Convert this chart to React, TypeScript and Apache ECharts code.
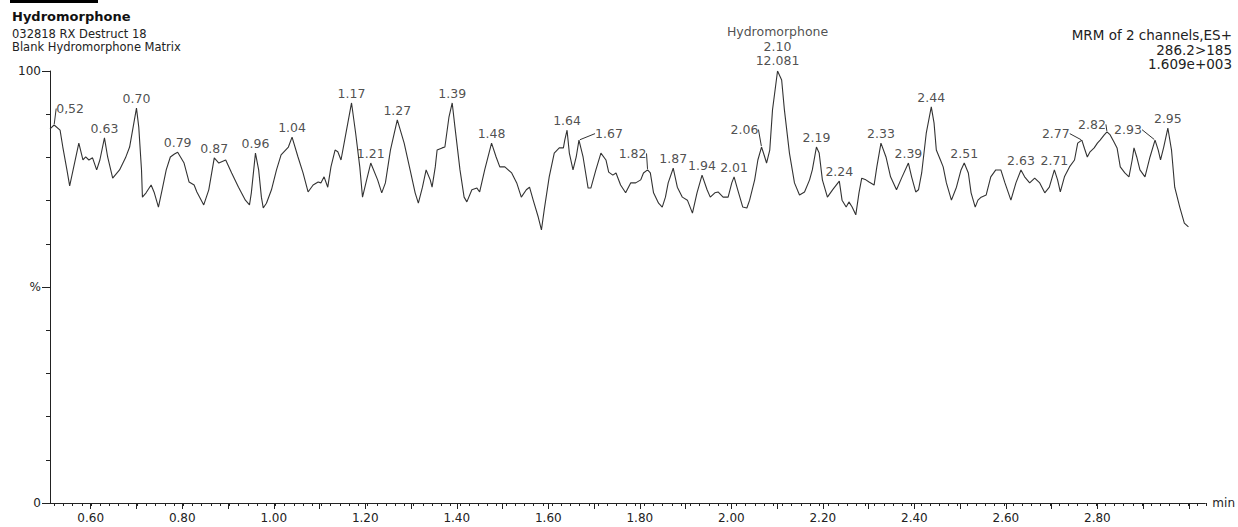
import React, { useEffect, useRef } from "react";
import * as echarts from "echarts";

// Retention time (min) of the traced chromatogram points
const retentionTime = [
  0.511, 0.52, 0.533, 0.539, 0.548, 0.554, 0.574, 0.583, 0.589, 0.596, 0.604, 0.613, 0.62, 0.63, 0.637, 0.648, 0.663, 0.676, 0.685, 0.7,
  0.705, 0.711, 0.713, 0.721, 0.732, 0.739, 0.748, 0.756, 0.765, 0.774, 0.783, 0.79, 0.804, 0.815, 0.826, 0.832, 0.847, 0.858, 0.87, 0.88,
  0.895, 0.908, 0.923, 0.938, 0.947, 0.951, 0.96, 0.967, 0.973, 0.977, 0.984, 0.995, 1.006, 1.016, 1.032, 1.04, 1.053, 1.064, 1.075, 1.086,
  1.097, 1.103, 1.11, 1.118, 1.125, 1.134, 1.14, 1.147, 1.155, 1.17, 1.179, 1.188, 1.194, 1.203, 1.212, 1.227, 1.236, 1.244, 1.255, 1.27,
  1.285, 1.298, 1.309, 1.316, 1.325, 1.333, 1.342, 1.346, 1.353, 1.357, 1.368, 1.374, 1.383, 1.39, 1.396, 1.407, 1.416, 1.422, 1.433, 1.444,
  1.45, 1.461, 1.476, 1.486, 1.494, 1.505, 1.52, 1.531, 1.541, 1.552, 1.559, 1.567, 1.578, 1.585, 1.591, 1.602, 1.613, 1.624, 1.633, 1.636,
  1.641, 1.646, 1.654, 1.661, 1.667, 1.676, 1.687, 1.693, 1.704, 1.715, 1.726, 1.732, 1.741, 1.748, 1.758, 1.769, 1.78, 1.791, 1.802, 1.808,
  1.817, 1.823, 1.83, 1.841, 1.849, 1.856, 1.862, 1.873, 1.882, 1.893, 1.904, 1.915, 1.925, 1.936, 1.947, 1.954, 1.964, 1.971, 1.982, 1.993,
  2.001, 2.006, 2.014, 2.025, 2.034, 2.04, 2.051, 2.058, 2.066, 2.073, 2.077, 2.084, 2.09, 2.101, 2.11, 2.116, 2.127, 2.138, 2.149, 2.16,
  2.171, 2.177, 2.186, 2.192, 2.199, 2.21, 2.222, 2.236, 2.242, 2.251, 2.257, 2.264, 2.272, 2.279, 2.285, 2.294, 2.301, 2.312, 2.318, 2.327,
  2.338, 2.348, 2.361, 2.372, 2.387, 2.394, 2.403, 2.409, 2.416, 2.426, 2.437, 2.443, 2.448, 2.457, 2.463, 2.47, 2.481, 2.492, 2.502, 2.509,
  2.518, 2.524, 2.533, 2.539, 2.546, 2.557, 2.567, 2.578, 2.589, 2.598, 2.611, 2.622, 2.633, 2.641, 2.652, 2.663, 2.674, 2.685, 2.695, 2.706,
  2.713, 2.719, 2.728, 2.739, 2.75, 2.757, 2.766, 2.772, 2.778, 2.784, 2.793, 2.8, 2.806, 2.815, 2.821, 2.828, 2.836, 2.843, 2.85, 2.86,
  2.869, 2.876, 2.88, 2.886, 2.893, 2.904, 2.915, 2.926, 2.933, 2.938, 2.945, 2.954, 2.962, 2.969, 2.98, 2.99, 2.999,
];

// Relative intensity (%) at each retention time
const intensity = [
  86.6, 87.5, 86.3, 82.4, 77.1, 73.4, 83.3, 79.4, 80.1, 79.4, 79.9, 77.1, 79.4, 84.5, 80.1, 75.2, 77.1, 79.9, 82.4, 91.4,
  87.0, 77.1, 70.8, 71.8, 73.6, 71.8, 68.5, 72.5, 77.1, 80.1, 80.8, 81.2, 78.7, 74.3, 73.6, 72.0, 69.0, 72.5, 79.9, 78.7,
  79.4, 76.4, 73.1, 70.1, 69.0, 71.8, 81.0, 77.1, 70.8, 68.3, 69.4, 72.5, 77.1, 80.6, 82.4, 84.7, 80.1, 76.4, 72.0, 73.6,
  74.3, 74.1, 75.5, 73.1, 77.8, 81.7, 81.3, 79.4, 84.0, 92.6, 85.6, 77.8, 70.8, 74.8, 78.7, 74.8, 71.8, 74.1, 81.7, 88.7,
  83.3, 77.1, 71.8, 69.4, 73.1, 77.1, 74.8, 73.1, 77.8, 81.7, 82.2, 82.4, 89.4, 92.6, 87.0, 77.1, 70.8, 69.7, 72.5, 72.9,
  72.0, 77.1, 83.3, 80.1, 77.8, 77.8, 76.4, 74.1, 70.8, 72.5, 73.1, 70.1, 66.2, 63.2, 67.8, 75.5, 81.0, 82.2, 82.2, 84.0,
  86.3, 81.0, 77.1, 80.1, 84.0, 80.1, 72.9, 72.9, 77.1, 81.0, 79.4, 76.6, 75.9, 76.4, 73.6, 71.8, 74.1, 74.1, 74.8, 76.4,
  77.1, 76.4, 71.8, 69.4, 68.5, 70.8, 74.1, 77.5, 73.1, 70.8, 70.1, 67.1, 71.8, 75.9, 72.5, 70.8, 71.8, 72.0, 70.8, 70.8,
  74.1, 75.5, 72.5, 68.5, 68.3, 70.1, 74.8, 79.4, 82.4, 80.1, 78.7, 81.7, 91.0, 100.0, 97.9, 91.0, 81.0, 74.1, 71.3, 72.0,
  74.8, 77.1, 82.4, 81.0, 74.8, 70.8, 72.6, 74.5, 70.1, 68.5, 69.7, 68.5, 66.7, 71.8, 75.2, 74.8, 74.3, 73.6, 77.8, 83.3,
  80.1, 75.5, 72.5, 75.2, 78.7, 75.5, 72.0, 72.5, 76.4, 85.6, 91.7, 88.0, 81.7, 79.4, 77.8, 74.1, 70.1, 73.1, 77.1, 78.7,
  76.4, 71.8, 68.5, 70.1, 70.8, 71.3, 75.5, 77.1, 77.1, 74.1, 70.1, 74.1, 77.1, 75.5, 74.1, 75.2, 74.1, 71.8, 73.1, 77.1,
  74.8, 72.0, 75.5, 77.8, 79.4, 83.3, 84.0, 82.0, 80.1, 81.3, 82.2, 83.3, 84.0, 85.2, 85.9, 85.2, 83.6, 82.2, 77.8, 76.4,
  75.5, 79.4, 82.2, 80.1, 77.1, 75.5, 80.1, 84.0, 81.7, 79.4, 82.4, 86.8, 81.7, 73.1, 68.5, 64.8, 63.9,
];

// Annotated peak apexes (label text and retention time)
const peakLabels = [
  "0,52", "0.63", "0.70", "0.79", "0.87", "0.96", "1.04", "1.17", "1.21", "1.27", "1.39", "1.48", "1.64", "1.67", "1.82", "1.87",
  "1.94", "2.01", "2.06", "2.10", "2.19", "2.24", "2.33", "2.39", "2.44", "2.51", "2.63", "2.71", "2.77", "2.82", "2.93", "2.95",
];
const peakTimes = [
  0.52, 0.63, 0.7, 0.79, 0.87, 0.96, 1.04, 1.17, 1.21, 1.27, 1.39, 1.48, 1.64, 1.67, 1.82, 1.87,
  1.94, 2.01, 2.06, 2.1, 2.19, 2.24, 2.33, 2.39, 2.44, 2.51, 2.63, 2.71, 2.77, 2.82, 2.93, 2.95,
];
const mainPeakLabel = "2.10";
const compoundName = "Hydromorphone";
const mainPeakArea = "12.081";

// Axis ticks
const xTickLabels = [0.6, 0.8, 1.0, 1.2, 1.4, 1.6, 1.8, 2.0, 2.2, 2.4, 2.6, 2.8];
const xMajorTicks = [0.6, 0.7, 0.8, 0.9, 1.0, 1.1, 1.2, 1.3, 1.4, 1.5, 1.6, 1.7, 1.8, 1.9, 2.0, 2.1, 2.2, 2.3, 2.4, 2.5, 2.6, 2.7, 2.8, 2.9, 3.0];
const xMin = 0.511;
const xMax = 3.036;

// Header texts
const headerLeft = ["Hydromorphone", "032818 RX Destruct 18", "Blank Hydromorphone Matrix"];
const headerRight = ["MRM of 2 channels,ES+", "286.2>185", "1.609e+003"];

// Label displacement (px) for the labels drawn with a leader line
const leaderOffsets: Record<string, [number, number]> = {
  "0,52": [16, -7],
  "1.67": [30, 3],
  "1.82": [-15, -7],
  "2.06": [-17, -8],
  "2.77": [-26, 3],
  "2.82": [-15, 2],
  "2.93": [-27, -1],
};

const FONT = '"DejaVu Sans", "Liberation Sans", sans-serif';
const INK = "#222";

export default function App() {
  const ref = useRef<HTMLDivElement>(null);

  useEffect(() => {
    if (!ref.current) return;
    const chart = echarts.init(ref.current, undefined, { renderer: "svg" });

    const linePoints = retentionTime.map((t, i) => [t, intensity[i]]);

    // apex = highest point within half a label step of the labelled time
    const apexIndex = peakTimes.map((t) => {
      let best = -1;
      for (let i = 0; i < retentionTime.length; i++) {
        if (Math.abs(retentionTime[i] - t) <= 0.0085 && (best < 0 || intensity[i] > intensity[best])) best = i;
      }
      return best;
    });

    const peakData = peakLabels.map((lab, k) => {
      const i = apexIndex[k];
      const item: any = {
        name: lab,
        value: [retentionTime[i], intensity[i]],
        labelLine: { show: !!leaderOffsets[lab] },
      };
      if (lab === mainPeakLabel) {
        item.label = {
          formatter: `${compoundName}\n${lab}\n${mainPeakArea}`,
          lineHeight: 14.5,
          align: "center",
          offset: [0, 4],
        };
      }
      return item;
    });

    const minorTicks: number[] = [];
    for (let k = 26; k <= 151; k++) minorTicks.push(+(k * 0.02).toFixed(2));

    const grid = { left: 50, right: 24, top: 71, bottom: 24 };

    chart.setOption({
      animation: false,
      backgroundColor: "#ffffff",
      textStyle: { fontFamily: FONT },
      grid: [grid, { ...grid }],
      xAxis: [
        {
          type: "value",
          gridIndex: 0,
          min: xMin,
          max: xMax,
          position: "bottom",
          axisLine: { show: true, onZero: false, lineStyle: { color: INK, width: 1 } },
          axisTick: { show: true, length: 6, customValues: xMajorTicks, lineStyle: { color: INK, width: 1 } },
          axisLabel: {
            show: true,
            customValues: xTickLabels,
            formatter: (v: number) => v.toFixed(2),
            color: INK,
            fontSize: 12,
            fontFamily: FONT,
            margin: 9,
          },
          splitLine: { show: false },
          name: "min",
          nameLocation: "end",
          nameGap: 7,
          nameTextStyle: { color: INK, fontSize: 12, fontFamily: FONT, verticalAlign: "middle" },
        },
        {
          type: "value",
          gridIndex: 1,
          min: xMin,
          max: xMax,
          position: "bottom",
          axisLine: { show: false },
          axisTick: { show: true, length: 3, customValues: minorTicks, lineStyle: { color: INK, width: 1 } },
          axisLabel: { show: false },
          splitLine: { show: false },
        },
      ],
      yAxis: [
        {
          type: "value",
          gridIndex: 0,
          min: 0,
          max: 100,
          interval: 50,
          axisLine: { show: true, lineStyle: { color: INK, width: 1 } },
          axisTick: { show: true, length: 8, lineStyle: { color: INK, width: 1 } },
          minorTick: { show: true, splitNumber: 5, length: 4, lineStyle: { color: INK, width: 1 } },
          axisLabel: {
            formatter: (v: number) => (v === 50 ? "%" : String(v)),
            color: INK,
            fontSize: 12,
            fontFamily: FONT,
            margin: 9,
          },
          splitLine: { show: false },
        },
        { type: "value", gridIndex: 1, min: 0, max: 100, show: false },
      ],
      series: [
        {
          type: "line",
          xAxisIndex: 0,
          yAxisIndex: 0,
          data: linePoints,
          showSymbol: false,
          symbol: "none",
          lineStyle: { color: "#333", width: 1.1 },
          silent: true,
          z: 2,
        },
        {
          type: "scatter",
          xAxisIndex: 0,
          yAxisIndex: 0,
          data: peakData,
          symbol: "circle",
          symbolSize: 2,
          itemStyle: { color: "rgba(0,0,0,0)" },
          silent: true,
          z: 3,
          label: {
            show: true,
            position: "top",
            distance: 2,
            formatter: (p: any) => p.name,
            color: INK,
            fontSize: 12.5,
            fontFamily: FONT,
          },
          labelLine: { show: false, lineStyle: { color: "#333", width: 1 } },
          labelLayout: (p: any) => {
            const off = leaderOffsets[peakLabels[p.dataIndex]];
            return off ? { dx: off[0], dy: off[1] } : {};
          },
        },
      ],
      graphic: [
        { type: "rect", shape: { x: 10, y: 0, width: 88, height: 3 }, style: { fill: "#000" } },
        {
          type: "text",
          x: 12,
          y: 16,
          style: { text: headerLeft[0], font: `bold 13px ${FONT}`, fill: "#111", verticalAlign: "middle" },
        },
        {
          type: "text",
          x: 12,
          y: 34,
          style: { text: headerLeft[1], font: `11.5px ${FONT}`, fill: INK, verticalAlign: "middle" },
        },
        {
          type: "text",
          x: 12,
          y: 47,
          style: { text: headerLeft[2], font: `11.5px ${FONT}`, fill: INK, verticalAlign: "middle" },
        },
        {
          type: "text",
          x: 1232,
          y: 35,
          style: { text: headerRight[0], font: `13.5px ${FONT}`, fill: INK, align: "right", verticalAlign: "middle" },
        },
        {
          type: "text",
          x: 1232,
          y: 50,
          style: { text: headerRight[1], font: `13.5px ${FONT}`, fill: INK, align: "right", verticalAlign: "middle" },
        },
        {
          type: "text",
          x: 1232,
          y: 64,
          style: { text: headerRight[2], font: `13.5px ${FONT}`, fill: INK, align: "right", verticalAlign: "middle" },
        },
      ],
    });

    return () => chart.dispose();
  }, []);

  return (
    <div
      ref={ref}
      style={{ position: "fixed", left: 0, top: 0, width: 1238, height: 527, background: "#fff" }}
    />
  );
}
